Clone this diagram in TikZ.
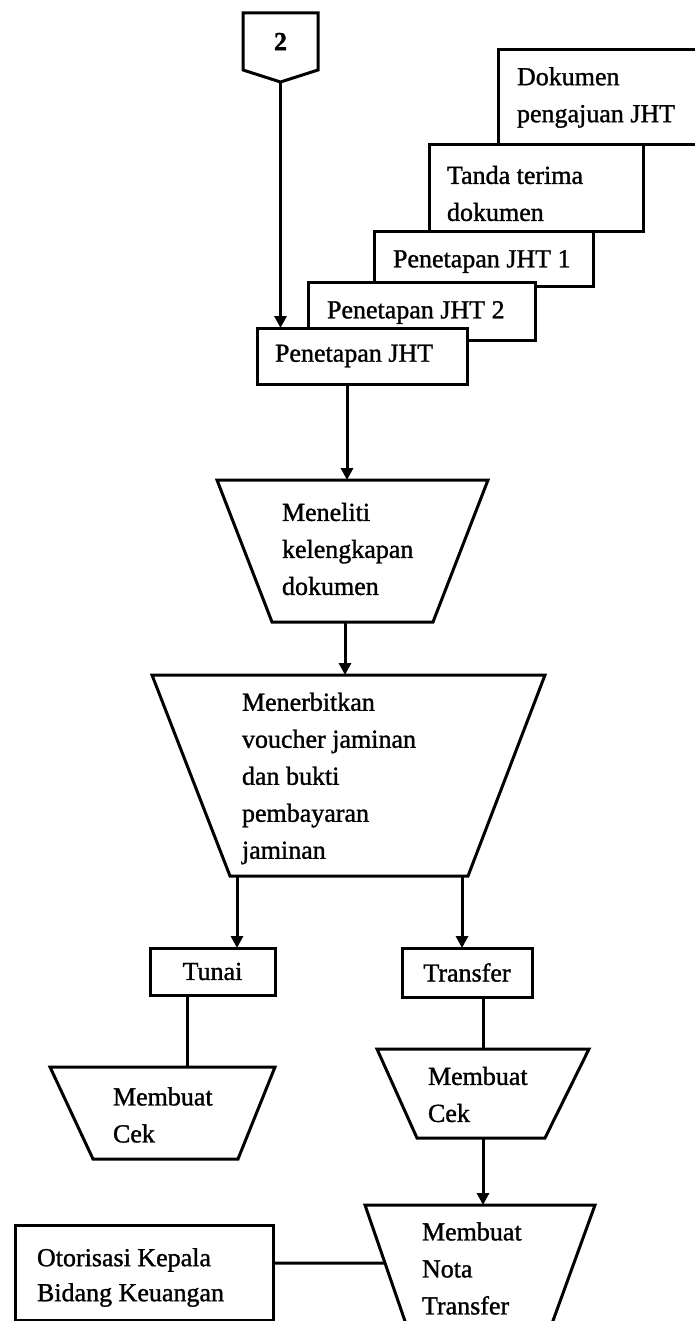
\documentclass[tikz,border=0pt]{standalone}
\usepackage{fontspec}
\setmainfont{Liberation Serif}[FakeBold=1.2]
\usetikzlibrary{arrows.meta,calc}

\begin{document}
\begin{tikzpicture}[x=1pt,y=-1pt,
  every node/.style={inner sep=0pt, outer sep=0pt},
  zone/.style={rectangle},
  frame/.style={draw, line width=3pt, fill=white, rectangle, font=\fontsize{26}{37}\selectfont},
  trapline/.style={draw, line width=3pt, line join=miter},
  txt/.style={font=\fontsize{26}{37}\selectfont, align=left, anchor=west},
  flow/.style={line width=3pt, -{Triangle[length=12pt,width=12pt]}},
  link/.style={line width=3pt},
]
\useasboundingbox (0,0) rectangle (694,1321);
\fill[white] (0,0) rectangle (694,1321);

% off-page connector
\node[zone, minimum width=75pt, minimum height=57pt] (conn) at (280.5,41.5) {};
\draw[trapline] (conn.north west) -- (conn.north east) -- (conn.south east)
  -- ($(conn.south)+(0,12)$) coordinate (tip) -- (conn.south west) -- cycle;
\node[font=\fontsize{26}{37}\selectfont\bfseries] (two) at (conn.center) {2};

% stacked documents
\node[frame, minimum width=200pt, minimum height=95pt, anchor=north west] (dok) at (498,50) {};
\node[txt] (dok-t) at ([xshift=19pt]dok.west) {Dokumen\\pengajuan JHT};
\node[frame, minimum width=214pt, minimum height=87pt, anchor=north west] (tanda) at (429,145) {};
\node[txt] (tanda-t) at ([xshift=18pt,yshift=-5pt]tanda.west) {Tanda terima\\dokumen};
\node[frame, minimum width=219pt, minimum height=55pt, anchor=north west] (pj1) at (374,232) {};
\node[txt] (pj1-t) at ([xshift=19pt,yshift=-2pt]pj1.west) {Penetapan JHT 1};
\node[frame, minimum width=227pt, minimum height=57pt, anchor=north west] (pj2) at (308,283) {};
\node[txt] (pj2-t) at ([xshift=19pt,yshift=-1pt]pj2.west) {Penetapan JHT 2};
\node[frame, minimum width=210pt, minimum height=56pt, anchor=north west] (pj) at (257,328) {};
\node[txt] (pj-t) at ([xshift=18pt]pj.west) {Penetapan JHT};

\draw[flow] (tip) -- (tip |- pj.north);

% Meneliti kelengkapan dokumen
\node[zone, minimum width=271pt, minimum height=142pt] (men) at (352.5,551) {};
\draw[trapline] (men.north west) -- (men.north east) -- ([xshift=-55pt]men.south east)
  -- ([xshift=55pt]men.south west) -- cycle;
\node[txt] (men-t) at ([xshift=65pt,yshift=2pt]men.west) {Meneliti\\kelengkapan\\dokumen};

\coordinate (a1) at ([xshift=-15pt]pj.south);
\draw[flow] (a1) -- (a1 |- men.north);

% Menerbitkan voucher
\node[zone, minimum width=393pt, minimum height=201pt] (mb) at (348.5,775.5) {};
\draw[trapline] (mb.north west) -- (mb.north east) -- ([xshift=-77pt]mb.south east)
  -- ([xshift=78pt]mb.south west) -- cycle;
\node[txt] (mb-t) at ([xshift=90pt,yshift=-3pt]mb.west)
  {Menerbitkan\\voucher jaminan\\dan bukti\\pembayaran\\jaminan};

\coordinate (a2) at ([xshift=-7.5pt]men.south);
\draw[flow] (a2) -- (a2 |- mb.north);

% payment choice
\node[frame, minimum width=125pt, minimum height=47pt] (tunai) at (212.5,971.5) {Tunai};
\node[frame, minimum width=130pt, minimum height=49pt] (transfer) at (467,972.5) {Transfer};

\coordinate (a3) at ([xshift=24.5pt]tunai.north);
\draw[flow] (a3 |- mb.south) -- (a3);
\coordinate (a4) at ([xshift=-5pt]transfer.north);
\draw[flow] (a4 |- mb.south) -- (a4);

% Membuat Cek (tunai)
\node[zone, minimum width=225pt, minimum height=92pt] (cekL) at (162.5,1113) {};
\draw[trapline] (cekL.north west) -- (cekL.north east) -- ([xshift=-37pt]cekL.south east)
  -- ([xshift=43pt]cekL.south west) -- cycle;
\node[txt] (cekL-t) at ([xshift=63pt,yshift=-2pt]cekL.west) {Membuat\\Cek};

\coordinate (a5) at ([xshift=-25.5pt]tunai.south);
\draw[link] (a5) -- (a5 |- cekL.north);

% Membuat Cek (transfer)
\node[zone, minimum width=212pt, minimum height=89pt] (cekR) at (483,1093.5) {};
\draw[trapline] (cekR.north west) -- (cekR.north east) -- ([xshift=-44pt]cekR.south east)
  -- ([xshift=40pt]cekR.south west) -- cycle;
\node[txt] (cekR-t) at ([xshift=51pt,yshift=-1pt]cekR.west) {Membuat\\Cek};

\coordinate (a6) at ([xshift=16pt]transfer.south);
\draw[link] (a6) -- (a6 |- cekR.north);

% Membuat Nota Transfer
\node[zone, minimum width=230pt, minimum height=135pt] (nota) at (480,1272.5) {};
\coordinate (nl) at ([xshift=46.5pt]nota.south west);
\coordinate (nr) at ([xshift=-49pt]nota.south east);
\draw[trapline] (nota.north west) -- (nota.north east) -- (nr) -- (nl) -- cycle;
\node[txt] (nota-t) at ([xshift=57pt,yshift=4pt]nota.west) {Membuat\\Nota\\Transfer};

\draw[flow] (cekR.south) -- (cekR.south |- nota.north);

% Otorisasi
\node[frame, minimum width=258pt, minimum height=95pt] (otor) at (144,1272.5) {};
\node[txt, font=\fontsize{26}{35}\selectfont] (otor-t) at ([xshift=22pt,yshift=-5pt]otor.west) {Otorisasi Kepala\\Bidang Keuangan};

\coordinate (a8) at ([yshift=9.5pt]otor.east);
\coordinate (a8r) at (a8 -| nota.center);
\coordinate (a9) at (intersection of nota.north west--nl and a8--a8r);
\draw[link] (a8) -- (a9);
\end{tikzpicture}
\end{document}
